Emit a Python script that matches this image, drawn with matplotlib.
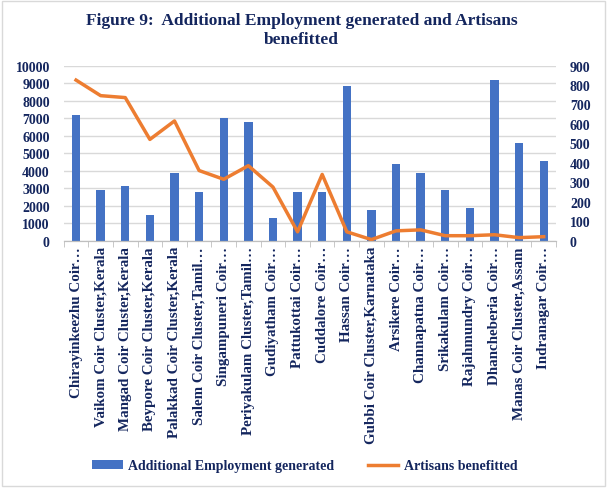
import matplotlib
matplotlib.use("Agg")
import matplotlib.pyplot as plt
import matplotlib.ticker as ticker
from matplotlib.patches import Rectangle
import numpy as np

CLUSTERS = [
    "Chirayinkeezhu Coir…", "Vaikom Coir Cluster,Kerala",
    "Mangad Coir Cluster,Kerala", "Beypore Coir Cluster,Kerala",
    "Palakkad Coir Cluster,Kerala", "Salem Coir Cluster,Tamil…",
    "Singampuneri Coir…", "Periyakulam Cluster,Tamil…",
    "Gudiyatham Coir…", "Pattukottai Coir…", "Cuddalore Coir…",
    "Hassan Coir…", "Gubbi Coir Cluster,Karnataka", "Arsikere Coir…",
    "Channapatna Coir…", "Srikakulam Coir…", "Rajahmundry Coir…",
    "Dhancheberia Coir…", "Manas Coir Cluster,Assam", "Indranagar Coir…",
]
EMPLOYMENT = [7150, 2900, 3100, 1450, 3850, 2800, 7000, 6750, 1300, 2800,
              2800, 8850, 1750, 4400, 3850, 2900, 1850, 9150, 5550, 4550]
ARTISANS = [825, 745, 735, 520, 615, 360, 315, 385, 275, 45,
            340, 45, 5, 50, 55, 25, 25, 30, 15, 20]

NAVY = "#14265e"
BLUE = "#4472C4"
ORANGE = "#ED7D31"
FONT = "Liberation Serif"


def main():
    fig = plt.figure(figsize=(6.07, 4.89), dpi=100)
    ax = fig.add_axes([0.105, 0.506, 0.811, 0.358])
    ax2 = ax.twinx()

    x = np.arange(len(CLUSTERS))
    ax.bar(x, EMPLOYMENT, 0.34, color=BLUE, zorder=2,
           label="Additional Employment generated")
    ax2.plot(x, ARTISANS, color=ORANGE, linewidth=2.5,
             label="Artisans benefitted")

    ax.set_xlim(-0.5, len(CLUSTERS) - 0.5)
    ax.set_ylim(0, 10000)
    ax2.set_ylim(0, 900)
    ax.yaxis.set_major_locator(ticker.MultipleLocator(1000))
    ax2.yaxis.set_major_locator(ticker.MultipleLocator(100))
    ax.grid(axis="y", color="#d9d9d9", linewidth=1, zorder=0)
    ax.set_axisbelow(True)

    ax.set_xticks(x)
    ax.set_xticklabels(CLUSTERS, rotation=90, family=FONT,
                       fontweight="bold", fontsize=10.8, color=NAVY)
    ax.set_xticks(np.arange(-0.5, len(CLUSTERS)), minor=True)
    ax.tick_params(axis="x", which="major", length=0, pad=4)
    ax.tick_params(axis="x", which="minor", length=4, color="#bfbfbf")

    for a in (ax, ax2):
        for side in ("top", "left", "right"):
            a.spines[side].set_visible(False)
        a.spines["bottom"].set_color("#bfbfbf")
        a.tick_params(axis="y", length=0)
        for lbl in a.get_yticklabels():
            lbl.set_family(FONT)
            lbl.set_fontweight("bold")
            lbl.set_fontsize(10)
            lbl.set_color(NAVY)
    ax.tick_params(axis="y", pad=10)
    ax2.tick_params(axis="y", pad=10)

    fig.text(0.497, 0.937,
             "Figure 9:  Additional Employment generated and Artisans\nbenefitted",
             ha="center", va="center", family=FONT, fontweight="bold",
             fontsize=12.5, color=NAVY, linespacing=1.25)

    h1, l1 = ax.get_legend_handles_labels()
    h2, l2 = ax2.get_legend_handles_labels()
    leg = fig.legend(h1 + h2, l1 + l2, loc="center",
                     bbox_to_anchor=(0.502, 0.045), ncol=2, frameon=False,
                     columnspacing=2.4, handlelength=2.2, handletextpad=0.4,
                     prop={"family": FONT, "weight": "bold", "size": 10})
    for t in leg.get_texts():
        t.set_color(NAVY)

    fig.patches.append(Rectangle((0.003, 0.004), 0.994, 0.992,
                                 transform=fig.transFigure, fill=False,
                                 edgecolor="#d9d9d9", linewidth=1))

    fig.savefig("out.png", dpi=100)


if __name__ == "__main__":
    main()
